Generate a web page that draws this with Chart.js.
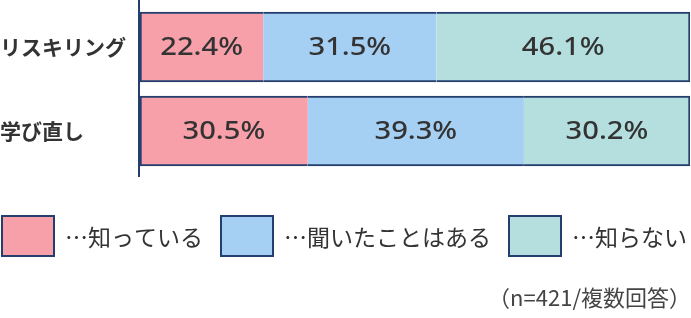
<!DOCTYPE html>
<html>
<head>
<meta charset="utf-8">
<script src="https://cdn.jsdelivr.net/npm/chart.js@4"></script>
<style>
  html, body { margin: 0; padding: 0; background: #fff; }
  #wrap { width: 691px; height: 318px; position: relative; }
</style>
</head>
<body>
<div id="wrap"><canvas id="chart"></canvas></div>
<script>
// data
const categories = ['リスキリング', '学び直し']
const seriesNames = ['…知っている', '…聞いたことはある', '…知らない']
const knowValues = [22.4, 30.5]
const heardValues = [31.5, 39.3]
const unknownValues = [46.1, 30.2]
const footnote = '（n=421/複数回答）'

const navy = '#243f6e'
const colors = ['#f7a0aa', '#a5d0f4', '#b5dfdf']
const textColor = '#333333'

// outline only around whole bar, not between segments
const borders = [
    { top: 2, bottom: 2, left: 2, right: 0 },
    { top: 2, bottom: 2, left: 0, right: 0 },
    { top: 2, bottom: 2, left: 0, right: 2 }
]

const datasets = [knowValues, heardValues, unknownValues].map((vals, i) => ({
    label: seriesNames[i],
    data: vals,
    backgroundColor: colors[i],
    borderColor: navy,
    borderWidth: borders[i],
    borderSkipped: false,
    barThickness: 70
}))

const valueLabels = {
    id: 'valueLabels',
    afterDatasetsDraw(chart) {
        const ctx = chart.ctx
        ctx.save()
        ctx.font = '500 26px "Noto Sans"'
        ctx.fillStyle = textColor
        ctx.textAlign = 'center'
        ctx.textBaseline = 'middle'
        chart.data.datasets.forEach((ds, i) => {
            chart.getDatasetMeta(i).data.forEach((bar, j) => {
                const p = bar.getCenterPoint()
                // the original digits are wide, stretch a little
                ctx.save()
                ctx.translate(p.x, p.y + 1)
                ctx.scale(1.12, 1)
                ctx.fillText(ds.data[j].toFixed(1) + '%', 0, 0)
                ctx.restore()
            })
        })
        ctx.restore()
    }
}

const axisLine = {
    id: 'axisLine',
    afterDraw(chart) {
        const ctx = chart.ctx
        const area = chart.chartArea
        ctx.save()
        ctx.strokeStyle = navy
        ctx.lineWidth = 2
        ctx.beginPath()
        ctx.moveTo(area.left - 1, 0)
        ctx.lineTo(area.left - 1, area.bottom + 4)
        ctx.stroke()
        ctx.restore()
    }
}

const bottomLegend = {
    id: 'bottomLegend',
    afterDraw(chart) {
        const ctx = chart.ctx
        const boxW = 54, boxH = 42, top = 215
        let x = 1
        ctx.save()
        ctx.font = '23px "Noto Sans CJK JP"'
        ctx.textBaseline = 'middle'
        ctx.textAlign = 'left'
        chart.data.datasets.forEach(ds => {
            ctx.fillStyle = navy
            ctx.fillRect(x, top, boxW, boxH)
            ctx.fillStyle = ds.backgroundColor
            ctx.fillRect(x + 2, top + 2, boxW - 4, boxH - 4)
            ctx.fillStyle = textColor
            const tx = x + boxW + 10
            ctx.fillText(ds.label, tx, top + boxH / 2 + 1)
            x = tx + ctx.measureText(ds.label).width + 17
        })
        ctx.font = '22px "Noto Sans CJK JP"'
        ctx.fillStyle = '#444'
        ctx.textAlign = 'right'
        ctx.fillText(footnote, chart.width, 298)
        ctx.restore()
    }
}

new Chart(document.getElementById('chart').getContext('2d'), {
    type: 'bar',
    data: { labels: categories, datasets: datasets },
    options: {
        indexAxis: 'y',
        responsive: true,
        maintainAspectRatio: false,
        animation: false,
        layout: { padding: { top: 5, bottom: 145, left: 0, right: 1 } },
        plugins: {
            legend: { display: false },
            tooltip: { enabled: false }
        },
        scales: {
            x: {
                stacked: true,
                min: 0,
                max: 100,
                display: false
            },
            y: {
                stacked: true,
                grid: { display: false, drawTicks: false },
                border: { display: false },
                ticks: {
                    crossAlign: 'far',
                    color: textColor,
                    font: { family: '"Noto Sans CJK JP"', size: 21, weight: 'bold' }
                },
                afterFit(scale) {
                    scale.width = 140
                    scale.paddingTop = 0
                    scale.paddingBottom = 0
                }
            }
        }
    },
    plugins: [valueLabels, axisLine, bottomLegend]
})
</script>
</body>
</html>
